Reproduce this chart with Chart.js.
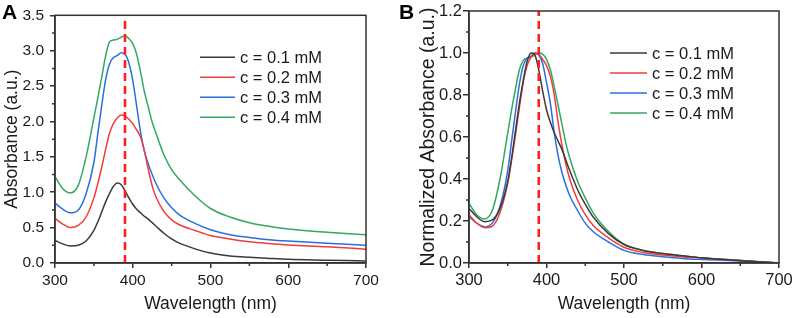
<!DOCTYPE html>
<html>
<head>
<meta charset="utf-8">
<script src="https://cdn.jsdelivr.net/npm/chart.js@4.4.1/dist/chart.umd.min.js"></script>
<style>
  body { margin: 0; background: #fff; }
  #wrap { position: relative; width: 796px; height: 318px; }
  .panel { position: absolute; top: 0; width: 398px; height: 318px; }
</style>
</head>
<body>
<div id="wrap">
  <div class="panel" style="left:0"><canvas id="chartA"></canvas></div>
  <div class="panel" style="left:398px"><canvas id="chartB"></canvas></div>
</div>
<script>
// wavelength grid (nm) shared by all curves
const wavelength = [300, 310, 320, 330, 340, 350, 355, 360, 365, 370, 375, 380, 385, 390, 395, 400, 405, 410, 415, 420, 425, 430, 440, 450, 460, 480, 500, 525, 550, 575, 600, 650, 700];

// panel A: absorbance (a.u.)
const absC01 = [0.32, 0.27, 0.24, 0.25, 0.31, 0.46, 0.58, 0.72, 0.86, 0.98, 1.08, 1.13, 1.11, 1.02, 0.92, 0.83, 0.76, 0.71, 0.66, 0.62, 0.57, 0.52, 0.42, 0.34, 0.28, 0.20, 0.14, 0.10, 0.08, 0.065, 0.052, 0.04, 0.028];
const absC02 = [0.63, 0.55, 0.50, 0.53, 0.65, 0.92, 1.12, 1.35, 1.60, 1.83, 1.97, 2.05, 2.09, 2.08, 2.03, 1.97, 1.88, 1.78, 1.58, 1.32, 1.09, 0.93, 0.73, 0.61, 0.54, 0.46, 0.39, 0.34, 0.30, 0.275, 0.255, 0.23, 0.195];
const absC03 = [0.85, 0.76, 0.71, 0.75, 0.98, 1.42, 1.82, 2.22, 2.58, 2.81, 2.90, 2.93, 2.97, 2.95, 2.83, 2.58, 2.22, 1.85, 1.58, 1.40, 1.25, 1.12, 0.92, 0.78, 0.68, 0.56, 0.47, 0.40, 0.36, 0.33, 0.31, 0.28, 0.25];
const absC04 = [1.22, 1.05, 0.99, 1.10, 1.50, 2.05, 2.33, 2.62, 2.92, 3.12, 3.15, 3.16, 3.19, 3.21, 3.17, 3.10, 2.95, 2.70, 2.42, 2.20, 1.99, 1.83, 1.53, 1.32, 1.18, 0.95, 0.77, 0.65, 0.57, 0.52, 0.48, 0.435, 0.40];

// panel B: normalized absorbance
const normC01 = [0.26, 0.22, 0.197, 0.205, 0.26, 0.39, 0.50, 0.63, 0.76, 0.87, 0.96, 1.0, 0.99, 0.92, 0.82, 0.73, 0.67, 0.62, 0.58, 0.54, 0.49, 0.44, 0.35, 0.28, 0.22, 0.14, 0.088, 0.06, 0.045, 0.035, 0.025, 0.012, 0.0];
const normC02 = [0.23, 0.19, 0.168, 0.175, 0.24, 0.38, 0.49, 0.61, 0.74, 0.86, 0.94, 0.98, 1.0, 0.995, 0.97, 0.94, 0.89, 0.80, 0.67, 0.56, 0.47, 0.40, 0.30, 0.23, 0.18, 0.12, 0.075, 0.05, 0.038, 0.03, 0.024, 0.012, 0.0];
const normC03 = [0.22, 0.19, 0.172, 0.19, 0.27, 0.44, 0.58, 0.72, 0.85, 0.94, 0.975, 0.985, 1.0, 0.99, 0.95, 0.86, 0.76, 0.62, 0.51, 0.43, 0.37, 0.32, 0.25, 0.19, 0.15, 0.10, 0.06, 0.04, 0.03, 0.022, 0.017, 0.009, 0.0];
const normC04 = [0.285, 0.23, 0.21, 0.25, 0.40, 0.62, 0.73, 0.83, 0.92, 0.965, 0.975, 0.98, 0.99, 1.0, 0.995, 0.97, 0.92, 0.84, 0.75, 0.66, 0.57, 0.50, 0.39, 0.31, 0.24, 0.15, 0.09, 0.06, 0.045, 0.035, 0.025, 0.012, 0.0];

const seriesLabels = ['c = 0.1 mM', 'c = 0.2 mM', 'c = 0.3 mM', 'c = 0.4 mM'];
const seriesColors = ['#3a3a3a', '#f23b3b', '#2a6fe0', '#33a860'];

const peakWavelength = 390;

// tick positions
const xTicks = [300, 400, 500, 600, 700];
const xMinor = [350, 450, 550, 650];
const yTicksA = [0, 0.5, 1.0, 1.5, 2.0, 2.5, 3.0, 3.5];
const yMinorA = [0.25, 0.75, 1.25, 1.75, 2.25, 2.75, 3.25];
const yTicksB = [0, 0.2, 0.4, 0.6, 0.8, 1.0, 1.2];
const yMinorB = [0.1, 0.3, 0.5, 0.7, 0.9, 1.1];

const FONT = "Arial, 'Liberation Sans', sans-serif";
const INK = '#1a1a1a';
const AXIS = '#333';

function toPoints(ys) {
    return wavelength.map((x, i) => ({ x: x, y: ys[i] }));
}

// frame, minor ticks, in-plot legend and panel letter
const decor = {
    id: 'decor',
    afterDraw(chart, args, opts) {
        const { ctx, chartArea: a, scales } = chart;
        ctx.save();
        ctx.strokeStyle = AXIS;
        ctx.lineWidth = 1.5;
        ctx.strokeRect(a.left, a.top, a.right - a.left, a.bottom - a.top);

        ctx.beginPath();
        opts.minorX.forEach(v => {
            const x = scales.x.getPixelForValue(v);
            ctx.moveTo(x, a.bottom);
            ctx.lineTo(x, a.bottom + 3);
        });
        opts.minorY.forEach(v => {
            const y = scales.y.getPixelForValue(v);
            ctx.moveTo(a.left, y);
            ctx.lineTo(a.left - 3, y);
        });
        ctx.stroke();

        // legend
        ctx.font = '16.5px ' + FONT;
        ctx.textBaseline = 'middle';
        ctx.textAlign = 'left';
        seriesLabels.forEach((lab, i) => {
            const y = a.top + 42 + i * 20;
            const x0 = a.left + opts.legendX;
            ctx.strokeStyle = seriesColors[i];
            ctx.lineWidth = 1.6;
            ctx.beginPath();
            ctx.moveTo(x0, y);
            ctx.lineTo(x0 + opts.legendLine, y);
            ctx.stroke();
            ctx.fillStyle = INK;
            ctx.fillText(lab, x0 + opts.legendLine + 5, y + 1);
        });

        // panel letter
        ctx.font = 'bold 21px ' + FONT;
        ctx.textBaseline = 'alphabetic';
        ctx.fillStyle = '#000';
        ctx.fillText(opts.letter, opts.letterX, 19);
        ctx.restore();
    }
};

function makeChart(id, cfg) {
    const datasets = [{
        label: 'peak',
        data: [{ x: peakWavelength, y: 0 }, { x: peakWavelength, y: cfg.yMax }],
        borderColor: '#ff1f1f',
        borderWidth: 2.6,
        borderDash: [8, 5],
        pointRadius: 0
    }];
    cfg.series.forEach((ys, i) => {
        datasets.push({
            label: seriesLabels[i],
            data: toPoints(ys),
            borderColor: seriesColors[i],
            borderWidth: 1.5,
            pointRadius: 0,
            cubicInterpolationMode: 'monotone'
        });
    });

    return new Chart(document.getElementById(id).getContext('2d'), {
        type: 'line',
        data: { datasets: datasets },
        plugins: [decor],
        options: {
            responsive: true,
            maintainAspectRatio: false,
            animation: false,
            layout: { padding: { left: 0, right: cfg.padRight, top: 11, bottom: 0 } },
            plugins: {
                legend: { display: false },
                tooltip: { enabled: false },
                decor: {
                    minorX: xMinor,
                    minorY: cfg.yMinor,
                    legendX: cfg.legendX,
                    legendLine: cfg.legendLine,
                    letter: cfg.letter,
                    letterX: cfg.letterX
                }
            },
            scales: {
                x: {
                    type: 'linear',
                    min: 300,
                    max: 700,
                    afterBuildTicks: s => { s.ticks = xTicks.map(v => ({ value: v })); },
                    afterFit: s => { s.height = 55; },
                    grid: { drawOnChartArea: false, drawTicks: true, tickLength: 5, color: AXIS, lineWidth: 1.5 },
                    border: { display: true, color: AXIS, width: 1.5 },
                    ticks: { color: INK, font: { family: FONT, size: cfg.tickSize }, padding: 3, maxRotation: 0 },
                    title: {
                        display: true,
                        text: 'Wavelength (nm)',
                        color: INK,
                        font: { family: FONT, size: 17.5 },
                        padding: { top: 0, bottom: 3 }
                    }
                },
                y: {
                    type: 'linear',
                    min: 0,
                    max: cfg.yMax,
                    afterBuildTicks: s => { s.ticks = cfg.yTicks.map(v => ({ value: v })); },
                    afterFit: s => { s.width = cfg.yWidth; },
                    grid: { drawOnChartArea: false, drawTicks: true, tickLength: cfg.yTickLen, color: AXIS, lineWidth: 1.5 },
                    border: { display: true, color: AXIS, width: 1.5 },
                    ticks: {
                        color: INK,
                        font: { family: FONT, size: cfg.tickSize },
                        padding: cfg.yTickPad,
                        callback: v => v.toFixed(1)
                    },
                    title: {
                        display: true,
                        text: cfg.yTitle,
                        color: INK,
                        font: { family: FONT, size: cfg.yTitleSize },
                        padding: { top: cfg.yTitlePad, bottom: 0 }
                    }
                }
            }
        }
    });
}

makeChart('chartA', {
    series: [absC01, absC02, absC03, absC04],
    yMax: 3.5,
    yTicks: yTicksA,
    yMinor: yMinorA,
    yWidth: 55,
    yTickLen: 5,
    yTickPad: 6,
    tickSize: 15.5,
    yTitle: 'Absorbance (a.u.)',
    yTitleSize: 17.5,
    yTitlePad: 2,
    padRight: 32,
    legendX: 145,
    legendLine: 35,
    letter: 'A',
    letterX: 2
});

makeChart('chartB', {
    series: [normC01, normC02, normC03, normC04],
    yMax: 1.2,
    yTicks: yTicksB,
    yMinor: yMinorB,
    yWidth: 71,
    yTickLen: 6,
    yTickPad: 1,
    tickSize: 16.5,
    yTitle: 'Normalized Absorbance (a.u.)',
    yTitleSize: 19.5,
    yTitlePad: 19,
    padRight: 17,
    legendX: 141,
    legendLine: 37,
    letter: 'B',
    letterX: 1
});
</script>
</body>
</html>
